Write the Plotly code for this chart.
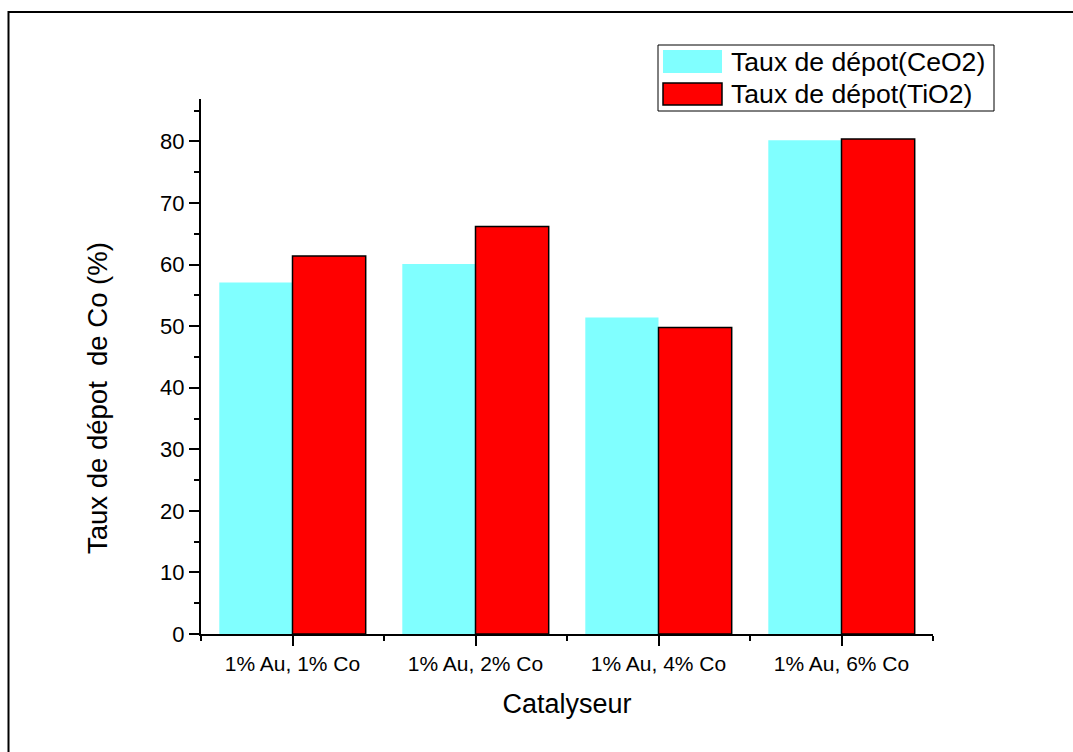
import plotly.graph_objects as go

categories = ["1% Au, 1% Co", "1% Au, 2% Co", "1% Au, 4% Co", "1% Au, 6% Co"]
ceo2_values = [57.1, 60.1, 51.4, 80.2]
tio2_values = [61.4, 66.2, 49.8, 80.4]
series_names = ["Taux de dépot(CeO2)", "Taux de dépot(TiO2)"]
series_colors = ["#80FFFF", "#FF0000"]
y_ticks = [0, 10, 20, 30, 40, 50, 60, 70, 80]
x_title = "Catalyseur"
y_title = "Taux de dépot  de Co (%)"

FONT = "Liberation Sans, Arial, sans-serif"
W, H = 1073, 752
L, R, T, B = 201, 140, 99, 118
PW, PH = W - L - R, H - T - B


def px(x):
    return (x - L) / PW


def py(y):
    return (H - B - y) / PH


xpos = list(range(len(categories)))

fig = go.Figure()
fig.add_trace(go.Bar(x=xpos, y=ceo2_values, name=series_names[0], showlegend=False,
                     marker=dict(color=series_colors[0], line=dict(width=0))))
fig.add_trace(go.Bar(x=xpos, y=tio2_values, name=series_names[1], showlegend=False,
                     marker=dict(color=series_colors[1], line=dict(color="black", width=1.5))))

fig.update_layout(
    width=W, height=H,
    margin=dict(l=L, r=R, t=T, b=B),
    paper_bgcolor="white", plot_bgcolor="white",
    barmode="group", bargap=0.2, bargroupgap=0,
    font=dict(family=FONT, color="black"),
    showlegend=False,
)
fig.update_xaxes(
    range=[-0.5, 3.5], tickmode="array", tickvals=xpos, ticktext=categories,
    showline=True, linecolor="black", linewidth=2, mirror=False,
    ticks="outside", ticklen=10, tickwidth=2, tickcolor="black",
    tickfont=dict(size=21, family=FONT), showgrid=False, zeroline=False,
    minor=dict(tickmode="array", tickvals=[-0.5, 0.5, 1.5, 2.5, 3.5],
               ticks="outside", ticklen=5, tickwidth=2, tickcolor="black"),
    title=dict(text=x_title, font=dict(size=27, family=FONT), standoff=20),
)
fig.update_yaxes(
    range=[0, 86.9], tickmode="array", tickvals=y_ticks,
    showline=True, linecolor="black", linewidth=2, mirror=False,
    ticks="outside", ticklen=10, tickwidth=2, tickcolor="black",
    tickfont=dict(size=22, family=FONT), showgrid=False, zeroline=False,
    minor=dict(tick0=5, dtick=10, ticks="outside", ticklen=5, tickwidth=2, tickcolor="black"),
)

# y-axis title (placed lower than the axis midpoint, as in the reference)
fig.add_annotation(xref="paper", yref="paper", x=px(97), y=py(398),
                   text=y_title, textangle=-90, showarrow=False,
                   xanchor="center", yanchor="middle",
                   font=dict(size=27.5, family=FONT, color="black"))

# outer frame (top and left edges visible; extends past the window)
fig.add_shape(type="rect", xref="paper", yref="paper",
              x0=px(8.5), x1=px(1100), y0=py(780), y1=py(12),
              line=dict(color="black", width=2), fillcolor="rgba(0,0,0,0)", layer="above")

# legend box
fig.add_shape(type="rect", xref="paper", yref="paper",
              x0=px(658), x1=px(994), y0=py(111), y1=py(45),
              line=dict(color="black", width=1), fillcolor="white", layer="above")
rows = [(50, 73), (83, 105)]
for i, (name, col) in enumerate(zip(series_names, series_colors)):
    y0, y1 = rows[i]
    fig.add_shape(type="rect", xref="paper", yref="paper",
                  x0=px(663), x1=px(722), y0=py(y1), y1=py(y0),
                  line=dict(color="black", width=1.5 if i == 1 else 0),
                  fillcolor=col, layer="above")
    fig.add_annotation(xref="paper", yref="paper", x=px(729), y=py((y0 + y1) / 2),
                       text=name, showarrow=False, xanchor="left", yanchor="middle",
                       font=dict(size=26.6, family=FONT, color="black"))

fig.write_html("out.html", config={"displayModeBar": False},
               post_script="document.body.style.margin='0';document.body.style.overflow='hidden';")
